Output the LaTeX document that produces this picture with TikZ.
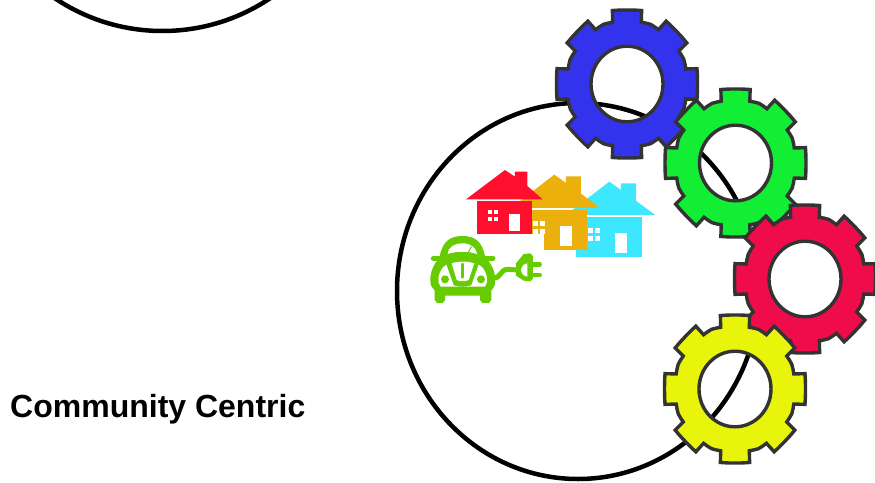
\documentclass[tikz,border=0pt]{standalone}
\usepackage{fontspec}
\setmainfont{Liberation Sans}
\definecolor{gblue}{HTML}{3333EE}
\definecolor{ggreen}{HTML}{12EE33}
\definecolor{gred}{HTML}{F00B4B}
\definecolor{gyellow}{HTML}{E8F50A}
\definecolor{gline}{HTML}{333333}
\definecolor{hred}{HTML}{FF0F2D}
\definecolor{horange}{HTML}{ECB00C}
\definecolor{hcyan}{HTML}{3DE8FF}
\definecolor{cargreen}{HTML}{66CC00}
\tikzset{
  bigring/.style={draw=black,line width=4.5pt},
  gearbody/.style={draw=gline,line width=3.4pt,line join=miter,even odd rule},
  carline/.style={draw=cargreen,line cap=round,line join=round},
}
\newcommand{\gearat}[3]{%
  \begin{scope}[shift={(#1,#2)},yscale=1.05]
  \path[gearbody,fill=#3]
    (-13.7:60.5) \foreach \a in {0,45,...,315}{
      -- (\a-13.7:60.5) -- (\a-11.8:71.5) -- (\a-6:70.8) -- (\a:70.5) -- (\a+6:70.8) -- (\a+11.8:71.5)
      -- (\a+13.7:60.5) -- (\a+18:61) -- (\a+22.5:61.5) -- (\a+27:61) } -- cycle
    (36,0) arc[start angle=0,end angle=360,radius=36];
  \end{scope}}
\newcommand{\housebig}[3]{%
  \fill[#3] (#1+431,#2+170) -- (#1+568,#2+65) -- (#1+603,#2+90) -- (#1+603,#2+70) -- (#1+648,#2+70)
     -- (#1+648,#2+122) -- (#1+705,#2+165) -- (#1+431,#2+165) -- cycle;
  \fill[#3] (#1+467,#2+171) rectangle (#1+665,#2+290);
  \fill[white] (#1+585,#2+220) rectangle (#1+620,#2+278);
  \fill[white] (#1+505,#2+205) rectangle (#1+519,#2+220);
  \fill[white] (#1+526,#2+205) rectangle (#1+540,#2+220);
  \fill[white] (#1+505,#2+228) rectangle (#1+519,#2+243);
  \fill[white] (#1+526,#2+228) rectangle (#1+540,#2+243);
}
\begin{document}
\begin{tikzpicture}[x=1pt,y=-1pt]
\useasboundingbox (0,0) rectangle (875,482);
\begin{scope}
  \clip (0,0) rectangle (875,482);
  \draw[bigring] (162.5,-162) circle[radius=193];
  \draw[bigring] (578,291) ellipse[x radius=181,y radius=188];
\end{scope}
% houses
\begin{scope}[shift={(420,160)},x=0.3333pt,y=-0.3333pt]
  \housebig{0}{0}{hcyan}
  \housebig{-165}{-21}{horange}
  \fill[white] (25,222) rectangle (372,450);
  \fill[hred] (138,118) -- (255,30) -- (285,50) -- (285,35) -- (322,35) -- (322,78) -- (368,118) -- cycle;
  \fill[hred] (172,122) rectangle (335,222);
  \fill[white] (268,162) rectangle (300,214);
  \fill[white] (203,151) rectangle (215,163);
  \fill[white] (221,151) rectangle (233,163);
  \fill[white] (203,170) rectangle (215,182);
  \fill[white] (221,170) rectangle (233,182);
\end{scope}
% car
\begin{scope}[shift={(425,230)},x=0.3333pt,y=-0.3333pt]
  \fill[cargreen] (44,80) .. controls (52,35) and (75,18) .. (112,18)
     .. controls (150,18) and (172,35) .. (180,80)
     .. controls (207,110) and (214,135) .. (209,167) -- (199,182) -- (199,210) -- (192,219) -- (172,219) -- (165,210) -- (165,197)
     -- (60,197) -- (60,210) -- (53,219) -- (36,219) -- (29,210) -- (29,182) -- (18,167) .. controls (11,135) and (22,110) .. (44,80) -- cycle;
  \draw[carline,line width=5pt] (25,85) -- (46,85);
  \draw[carline,line width=5pt] (183,85) -- (204,85);
  \fill[white] (68,72) .. controls (70,50) and (90,40) .. (112,40) .. controls (135,40) and (152,50) .. (156,72)
     .. controls (130,63) and (95,63) .. (68,72) -- cycle;
  \fill[white] (54,112) -- (64,104) -- (86,166) .. controls (100,171) and (125,171) .. (139,166) -- (161,104) -- (172,112)
     .. controls (188,132) and (190,158) .. (180,170) -- (47,170) .. controls (36,158) and (38,132) .. (54,112) -- cycle;
  \fill[white] (80,100) .. controls (100,93) and (128,93) .. (148,100) -- (131,150) .. controls (122,155) and (104,155) .. (95,150) -- cycle;
  \draw[carline,line width=2.5pt] (113,102) -- (113,142);
  \fill[cargreen] (60,148) circle[radius=4pt];
  \fill[cargreen] (168,148) circle[radius=4pt];
  \draw[carline,line width=1pt,draw=cargreen] (130,68) -- (139,50);
  \draw[carline,line width=5pt] (205,142) .. controls (225,150) and (225,118) .. (248,118) -- (280,120);
  \fill[cargreen] (273,100) -- (296,72) -- (316,70) -- (324,78) -- (324,146) -- (316,154) -- (296,152) -- (273,137) -- cycle;
  \fill[white] (288,120) .. controls (290,108) and (296,102) .. (307,100) -- (307,140) .. controls (296,138) and (290,132) .. (288,120) -- cycle;
  \draw[carline,line width=4.5pt] (320,103) -- (344,103);
  \draw[carline,line width=4.5pt] (320,135) -- (344,135);
\end{scope}
% gears
\gearat{627}{84}{gblue}
\gearat{735.5}{163}{ggreen}
\gearat{805}{279}{gred}
\gearat{735}{389}{gyellow}
\node[anchor=base west,inner sep=0pt,font=\fontsize{32}{35}\selectfont\bfseries] (label) at (10,417) {Community Centric};
\end{tikzpicture}
\end{document}
